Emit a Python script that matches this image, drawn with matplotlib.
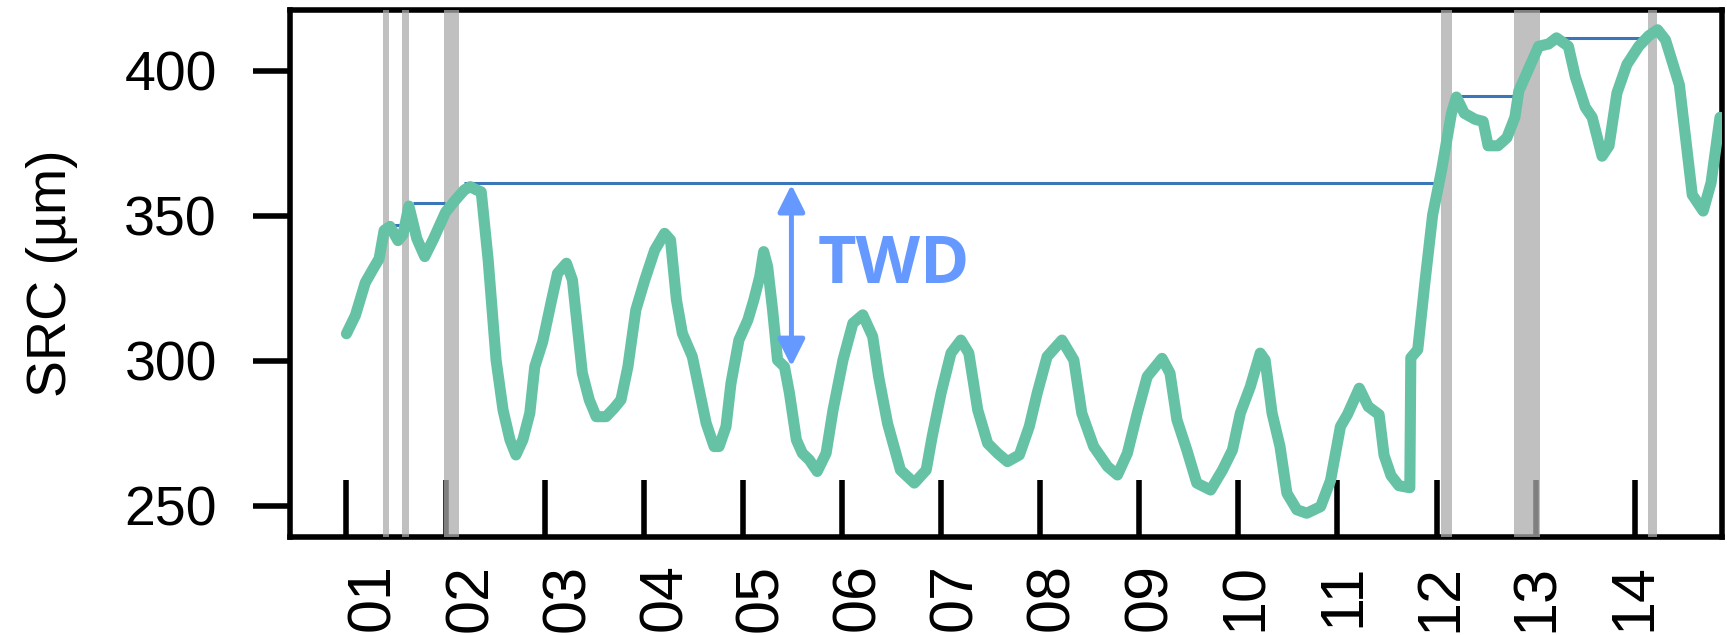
import matplotlib
matplotlib.use("Agg")
import matplotlib.pyplot as plt

plt.rcParams['font.family'] = ['Liberation Sans', 'DejaVu Sans']

# stem radius change (x in days)
days = [1.00, 1.09, 1.19, 1.27, 1.33, 1.38, 1.44, 1.52, 1.57, 1.63, 1.71, 1.79, 1.88,
        2.00, 2.10, 2.19, 2.25, 2.31, 2.36, 2.43, 2.51, 2.58, 2.65, 2.71, 2.78, 2.85,
        2.90, 2.98, 3.07, 3.13, 3.22, 3.28, 3.33, 3.38, 3.45, 3.52, 3.62, 3.70, 3.77,
        3.84, 3.92, 4.01, 4.11, 4.21, 4.27, 4.33, 4.39, 4.49, 4.56, 4.63, 4.71, 4.76,
        4.83, 4.88, 4.96, 5.05, 5.11, 5.17, 5.21, 5.25, 5.30, 5.35, 5.42, 5.47, 5.54,
        5.60, 5.67, 5.75, 5.84, 5.91, 6.01, 6.11, 6.21, 6.31, 6.37, 6.46, 6.59, 6.73,
        6.85, 6.91, 7.00, 7.10, 7.20, 7.28, 7.37, 7.47, 7.57, 7.67, 7.79, 7.89, 7.97,
        8.07, 8.22, 8.34, 8.42, 8.54, 8.68, 8.78, 8.88, 8.98, 9.08, 9.23, 9.31, 9.38,
        9.48, 9.58, 9.72, 9.84, 9.94, 10.02, 10.12, 10.22, 10.27, 10.34, 10.42, 10.49,
        10.59, 10.69, 10.83, 10.93, 11.03, 11.10, 11.22, 11.31, 11.42, 11.47, 11.54,
        11.62, 11.73, 11.74, 11.81, 11.88, 11.96, 12.05, 12.15, 12.20, 12.28, 12.39,
        12.47, 12.52, 12.62, 12.71, 12.79, 12.83, 12.93, 13.03, 13.13, 13.21, 13.33,
        13.40, 13.50, 13.57, 13.67, 13.74, 13.82, 13.92, 14.04, 14.14, 14.23, 14.31,
        14.45, 14.58, 14.69, 14.77, 14.86]
src = [309.4, 315.7, 327.0, 331.8, 335.3, 345.0, 346.4, 341.5, 343.6, 353.4, 342.2, 336.0, 342.2,
       351.3, 355.5, 359.0, 360.1, 359.0, 358.3, 334.8, 300.3, 283.1, 272.8, 267.6, 272.8, 282.0,
       298.0, 306.6, 321.0, 330.2, 333.7, 327.9, 311.8, 295.8, 286.6, 280.8, 280.8, 283.7, 286.6,
       298.0, 317.6, 327.9, 338.2, 344.0, 341.7, 321.0, 309.5, 301.5, 290.0, 278.5, 270.5, 270.5,
       277.4, 292.3, 307.2, 314.1, 321.0, 329.0, 337.7, 332.5, 317.6, 300.3, 298.0, 288.9, 272.8,
       268.2, 265.9, 261.9, 268.2, 283.1, 300.3, 313.0, 315.9, 308.4, 294.6, 278.5, 262.4, 257.9,
       262.4, 273.9, 288.9, 302.7, 307.2, 302.7, 283.1, 271.6, 268.2, 265.3, 267.6, 277.4, 288.9,
       301.5, 307.2, 300.3, 282.0, 270.5, 263.6, 260.7, 268.2, 282.0, 294.6, 300.9, 295.8, 279.7,
       269.3, 257.9, 255.5, 262.4, 269.3, 282.0, 291.1, 302.7, 300.3, 282.0, 270.5, 254.4,
       248.7, 247.5, 249.8, 258.8, 277.4, 281.5, 290.6, 284.3, 281.5, 267.5, 260.5,
       257.0, 256.3, 301.1, 303.9, 326.4, 350.3, 365.7, 385.4, 391.0, 385.4, 383.3,
       382.6, 374.2, 374.2, 377.0, 384.0, 393.1, 400.8, 408.5, 409.3, 411.4, 408.5,
       398.0, 387.5, 384.0, 370.6, 374.2, 392.4, 402.2, 408.5, 412.1, 414.2, 410.7,
       395.2, 357.3, 351.7, 361.5, 384.0]

# shaded periods (start, end)
band_start = [1.366, 1.56, 1.98, 12.04, 12.78, 14.13]
band_end = [1.43, 1.63, 2.14, 12.16, 13.04, 14.22]

# running maximum segments
max_y = [346.9, 354.6, 361.3, 391.4, 411.3]
max_x0 = [1.43, 1.67, 2.19, 12.24, 13.26]
max_x1 = [1.56, 1.99, 12.05, 12.79, 14.13]

# TWD arrow
twd_x = 5.49
twd_top = 360.8
twd_bottom = 298.1

tick_days = list(range(1, 15))
day_labels = ["%02d" % d for d in tick_days]
label_pos = [1.277, 2.26, 3.24, 4.22, 5.19, 6.17, 7.15, 8.13, 9.11, 10.08, 11.06, 12.04, 13.02, 14.0]

fig = plt.figure(figsize=(17.27, 6.35), dpi=100)
ax = fig.add_axes([0.1679, 0.1543, 0.8292, 0.8299])

for s, e in zip(band_start, band_end):
    ax.axvspan(s, e, color='#ababab', alpha=0.75, lw=0, zorder=3)

ax.hlines(max_y, max_x0, max_x1, color='#3a76b9', lw=2.2, zorder=3.5)
ax.plot(days, src, color='#66c2a5', lw=8, solid_joinstyle='round',
        solid_capstyle='round', zorder=4)

ax.annotate('', xy=(twd_x, twd_bottom), xytext=(twd_x, twd_top),
            arrowprops=dict(arrowstyle='<|-|>,head_length=0.4,head_width=0.2',
                            color='#6699ff', lw=3.6, mutation_scale=41,
                            shrinkA=0, shrinkB=0), zorder=5)
ax.text(6.525, 326.9, 'TWD', fontsize=48, fontweight='bold', family='Open Sans',
        color='#6699ff', ha='center', va='baseline', zorder=5)

ax.set_xlim(0.43, 14.88)
ax.set_ylim(239.3, 421.0)

ax.xaxis.remove_overlapping_locs = False
ax.set_xticks(tick_days)
ax.set_xticklabels([])
ax.set_xticks(label_pos, minor=True)
ax.set_xticklabels(day_labels, minor=True, rotation=90, fontsize=44)
ax.tick_params(axis='x', which='major', direction='in', length=41, width=4)
ax.tick_params(axis='x', which='minor', length=0, pad=19)

ax.set_yticks([250, 300, 350, 400])
ax.tick_params(axis='y', direction='out', length=26.6, width=4, pad=26, labelsize=40)

for sp in ax.spines.values():
    sp.set_linewidth(4)

ax.set_ylabel('SRC (µm)', fontsize=40)
ax.yaxis.set_label_coords(-0.148, 0.5)

fig.savefig('out.png', dpi=100)
